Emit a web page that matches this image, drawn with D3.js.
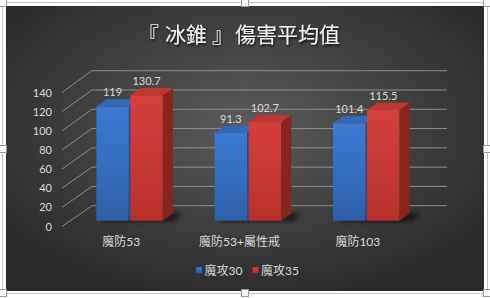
<!DOCTYPE html>
<html>
<head>
<meta charset="utf-8">
<script src="https://cdn.jsdelivr.net/npm/d3@7/dist/d3.min.js"></script>
<style>
  body { margin: 0; background: #fff; }
  svg { display: block; }
  .tick-label, .cat-label, .value-label, .legend-text {
    font-family: Lato, "Noto Sans CJK TC", sans-serif;
    fill: #d9d9d9;
  }
</style>
</head>
<body>
<svg width="490" height="298"></svg>
<script>
var categories = ["魔防53", "魔防53+屬性戒", "魔防103"];
var seriesNames = ["魔攻30", "魔攻35"];
var atk30 = [119, 91.3, 101.4];
var atk35 = [130.7, 102.7, 115.5];
var yTicks = [0, 20, 40, 60, 80, 100, 120, 140];

var svg = d3.select("svg"),
  width = +svg.attr("width"),
  height = +svg.attr("height");

var defs = svg.append("defs");

var bg = defs.append("radialGradient")
  .attr("id", "bg")
  .attr("cx", "50%").attr("cy", "42%").attr("r", "62%");
bg.append("stop").attr("offset", "0%").attr("stop-color", "#5b5b5b");
bg.append("stop").attr("offset", "100%").attr("stop-color", "#2a2a2a");

function vGrad(id, top, bottom) {
  var g = defs.append("linearGradient")
    .attr("id", id)
    .attr("x1", 0).attr("y1", 0).attr("x2", 0).attr("y2", 1);
  g.append("stop").attr("offset", "0%").attr("stop-color", top);
  g.append("stop").attr("offset", "100%").attr("stop-color", bottom);
}
vGrad("blueFront", "#3a7bd3", "#2c60a9");
vGrad("redFront", "#d43f3b", "#b7302c");

var shadow = defs.append("filter").attr("id", "titleShadow")
  .attr("x", "-10%").attr("y", "-30%").attr("width", "120%").attr("height", "160%");
shadow.append("feDropShadow")
  .attr("dx", 1).attr("dy", 1.5).attr("stdDeviation", 1.2)
  .attr("flood-color", "#000").attr("flood-opacity", 0.8);

var blur = defs.append("filter").attr("id", "blur")
  .attr("x", "-50%").attr("y", "-50%").attr("width", "200%").attr("height", "200%");
blur.append("feGaussianBlur").attr("stdDeviation", 2.5);

// frame + chart area
svg.append("rect")
  .attr("x", 2.5).attr("y", 2.5).attr("width", 485).attr("height", 291)
  .attr("fill", "#fff").attr("stroke", "#c6c6c6");
svg.append("rect")
  .attr("x", 6).attr("y", 6).attr("width", 478).attr("height", 285)
  .attr("fill", "url(#bg)");

// selection handles
var handles = [[3, 3], [245, 3], [487, 3], [3, 149], [487, 149], [3, 293], [245, 293], [487, 293]];
svg.append("g").selectAll("rect")
  .data(handles)
  .enter().append("rect")
  .attr("x", function (d) { return d[0] - 3.5; })
  .attr("y", function (d) { return d[1] - 3.5; })
  .attr("width", 7).attr("height", 7)
  .attr("fill", "#fff").attr("stroke", "#9a9a9a");

// title (brackets spaced out like the original font does)
var title = svg.append("text")
  .attr("x", 138).attr("y", 42)
  .attr("font-family", "'Noto Sans CJK TC', sans-serif")
  .attr("font-size", 21)
  .attr("fill", "#f2f2f2")
  .attr("filter", "url(#titleShadow)");
title.append("tspan").text("『");
title.append("tspan").attr("dx", 6).text("冰錐");
title.append("tspan").attr("dx", 5).text("』");
title.append("tspan").attr("dx", 2).text("傷害平均值");

// 3d scales: front plane and back wall, depth shift in x
var depthX = 30;
var x = d3.scaleBand().domain(categories).range([62, 417]);
var yFront = d3.scaleLinear().domain([0, 140]).range([226.5, 92.5]);
var yBack = d3.scaleLinear().domain([0, 140]).range([205.7, 70.7]);

function yAt(t) {
  return d3.scaleLinear().domain([0, 140]).range([
    yFront(0) + (yBack(0) - yFront(0)) * t,
    yFront(140) + (yBack(140) - yFront(140)) * t
  ]);
}

// gridlines
var grid = svg.append("g")
  .attr("stroke", "#8c8c8c")
  .attr("stroke-width", 1)
  .attr("fill", "none");
grid.selectAll("path")
  .data(yTicks)
  .enter().append("path")
  .attr("d", function (d) {
    var x0 = x.range()[0], x1 = x.range()[1];
    return "M" + x0 + "," + yFront(d) +
      "L" + (x0 + depthX) + "," + yBack(d) +
      "L" + (x1 + depthX) + "," + yBack(d);
  });

// y tick labels
svg.append("g").selectAll("text")
  .data(yTicks)
  .enter().append("text")
  .attr("class", "tick-label")
  .attr("x", 52)
  .attr("y", function (d) { return yFront(d) + 4; })
  .attr("text-anchor", "end")
  .attr("font-size", 11)
  .text(function (d) { return d; });

// bars
var t0 = 0.28, tDepth = 0.34;
var yBar = yAt(t0), yBarBack = yAt(t0 + tDepth);
var barDx = depthX * tDepth;
var xs = d3.scaleBand().domain(seriesNames).range([26, 92.3]).paddingInner(0.05);

var barData = [];
categories.forEach(function (c, i) {
  barData.push({ cat: c, key: seriesNames[0], value: atk30[i] });
  barData.push({ cat: c, key: seriesNames[1], value: atk35[i] });
});

var colors = {
  "魔攻30": { front: "url(#blueFront)", side: "#244f8e", top: "#3569b6" },
  "魔攻35": { front: "url(#redFront)", side: "#8a2420", top: "#bd3632" }
};

// floor shadows
svg.append("g").selectAll("path")
  .data(categories)
  .enter().append("path")
  .attr("d", function (c) {
    var xl = x(c) + xs.range()[0] + depthX * t0 + 4;
    var xr = x(c) + xs.range()[1] + depthX * t0 + barDx + 6;
    var yb = yBar(0), ybb = yBarBack(0);
    return "M" + xl + "," + (yb + 1) + "L" + (xr - 4) + "," + (yb + 1) +
      "L" + (xr + 4) + "," + (ybb - 1) + "L" + (xl + barDx) + "," + (ybb - 1) + "Z";
  })
  .attr("fill", "#000")
  .attr("opacity", 0.55)
  .attr("filter", "url(#blur)");

var bars = svg.append("g").selectAll("g")
  .data(barData)
  .enter().append("g");

function bx(d) { return x(d.cat) + xs(d.key) + depthX * t0; }

bars.append("path")
  .attr("d", function (d) {
    var x0 = bx(d) + xs.bandwidth(), yt = yBar(d.value), yb = yBar(0);
    var ytb = yBarBack(d.value), ybb = yBarBack(0);
    return "M" + x0 + "," + yt + "L" + (x0 + barDx) + "," + ytb +
      "L" + (x0 + barDx) + "," + ybb + "L" + x0 + "," + yb + "Z";
  })
  .attr("fill", function (d) { return colors[d.key].side; });

bars.append("path")
  .attr("d", function (d) {
    var x0 = bx(d), x1 = x0 + xs.bandwidth(), yt = yBar(d.value), ytb = yBarBack(d.value);
    return "M" + x0 + "," + yt + "L" + x1 + "," + yt +
      "L" + (x1 + barDx) + "," + ytb + "L" + (x0 + barDx) + "," + ytb + "Z";
  })
  .attr("fill", function (d) { return colors[d.key].top; });

bars.append("rect")
  .attr("x", bx)
  .attr("y", function (d) { return yBar(d.value); })
  .attr("width", xs.bandwidth())
  .attr("height", function (d) { return yBar(0) - yBar(d.value); })
  .attr("fill", function (d) { return colors[d.key].front; });

bars.append("text")
  .attr("class", "value-label")
  .attr("x", function (d) { return bx(d) + xs.bandwidth() / 2; })
  .attr("y", function (d) { return yBarBack(d.value) - 3; })
  .attr("text-anchor", "middle")
  .attr("font-size", 11)
  .text(function (d) { return d.value; });

// category labels
svg.append("g").selectAll("text")
  .data(categories)
  .enter().append("text")
  .attr("class", "cat-label")
  .attr("x", function (d) { return x(d) + x.bandwidth() / 2; })
  .attr("y", 246)
  .attr("text-anchor", "middle")
  .attr("font-size", 12)
  .text(function (d) { return d; });

// legend
var legendX = d3.scaleOrdinal().domain(seriesNames).range([196, 252.5]);
var legend = svg.append("g").selectAll("g")
  .data(seriesNames)
  .enter().append("g")
  .attr("transform", function (d) { return "translate(" + legendX(d) + ",267)"; });
legend.append("rect")
  .attr("width", 6).attr("height", 6)
  .attr("fill", function (d) { return colors[d].front; })
  .attr("stroke", function (d) { return colors[d].side; })
  .attr("stroke-width", 0.6);
legend.append("text")
  .attr("class", "legend-text")
  .attr("x", 8.5).attr("y", 7.5)
  .attr("font-size", 12)
  .text(function (d) { return d; });
</script>
</body>
</html>
